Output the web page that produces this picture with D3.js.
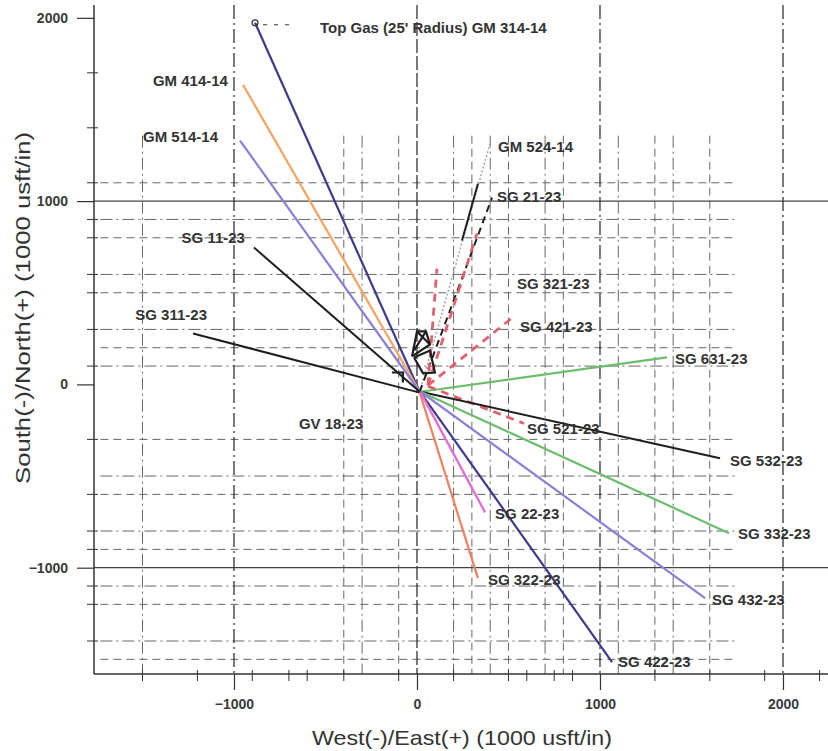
<!DOCTYPE html>
<html>
<head>
<meta charset="utf-8">
<script src="https://cdn.jsdelivr.net/npm/d3@7"></script>
<style>
  body { margin: 0; background: #fff; }
  text { font-family: "Liberation Sans", Arial, sans-serif; }
</style>
</head>
<body>
<script>

// trajectories, usft from the pad (East +, North +)
let wellNames = ["GM 314-14", "GM 414-14", "GM 514-14", "SG 11-23", "SG 311-23",
  "GM 524-14", "", "SG 21-23", "", "SG 321-23", "SG 421-23", "SG 631-23", "SG 521-23",
  "SG 532-23", "SG 332-23", "SG 432-23", "SG 422-23", "SG 322-23", "SG 22-23"];
let startEast  = [15, 15, 15, 15, 15,   15, 246, 15, 60, 60, 60,   20, 60,   20, 20, 20, 20, 15, 20];
let startNorth = [-40, -40, -40, -40, -45, -40, 785, -40, -5, -5, -5, -40, -10, -40, -40, -40, -45, -45, -45];
let endEast    = [-885, -951, -967, -891, -1224, 399, 333, 410, 109, 328, 536, 1366, 585, 1656, 1705, 1574, 1066, 333, 372];
let endNorth   = [1973, 1635, 1330, 747, 278, 1313, 1095, 1019, 632, 823, 376, 147, -213, -403, -812, -1166, -1515, -1057, -698];
let wellKind   = ["navy", "orange", "lilac", "black", "black", "grey", "black", "blackdash", "red", "red", "red",
  "green", "red", "black", "green", "lilac", "navy", "salmon", "magenta"];

// GV 18-23 derrick outline
let rigLines = [
  [[-27, 153], [0, 289], [49, 289], [71, 218], [-27, 153]],
  [[0, 289], [71, 218]],
  [[49, 289], [-16, 185]],
  [[-16, 147], [71, 185], [98, 65], [33, 60], [-16, 147]],
  [[-137, 65], [-77, 65], [-77, 11]]
];

// axis ticks and grid
let xMajor = [-1000, 0, 1000, 2000];
let yMajor = [2000, 1000, 0, -1000];
let xMinorTicks = [-1500, -1200, -900, -700, -600, -400, -100, 200, 500, 600, 750, 850, 1300, 1600, 1900, 2200];
let yMinorTicks = [1700, 1400, 1100, 900, 800, 600, 500, 300, 100, -300, -600, -800, -900, -1100, -1200, -1400];
let xGrid = [-1500, -400, -300, -100, 200, 300, 400, 500, 700, 800, 1100, 1300, 1400, 1600];
let yGrid = [1100, 900, 800, 600, 500, 300, 200, 100, -300, -500, -600, -800, -900, -1100, -1200, -1400, -1500];


let canvasW = 828;
let canvasH = 751;

let styles = {
  navy:      { color: "#3d3a86", width: 2.2, dash: null },
  orange:    { color: "#f2a86a", width: 2.4, dash: null },
  lilac:     { color: "#8b7fd2", width: 2.2, dash: null },
  black:     { color: "#1e1e1e", width: 2, dash: null },
  blackdash: { color: "#1e1e1e", width: 2, dash: "7,5" },
  grey:      { color: "#a8a8a8", width: 1.6, dash: "2,2" },
  red:       { color: "#e0606e", width: 2.8, dash: "8,6" },
  green:     { color: "#6cbd6c", width: 2.2, dash: null },
  salmon:    { color: "#f08060", width: 2.2, dash: null },
  magenta:   { color: "#e070d2", width: 2.4, dash: null }
};

// label placement relative to the line end, pixels
let labelPos = {
  "GM 314-14": { dx: 65, dy: 5, anchor: "start", text: "Top Gas (25' Radius) GM 314-14" },
  "GM 414-14": { dx: -15, dy: -4, anchor: "end" },
  "GM 514-14": { dx: -22, dy: -4, anchor: "end" },
  "SG 11-23":  { dx: -9, dy: -10, anchor: "end" },
  "SG 311-23": { dx: 14, dy: -19, anchor: "end" },
  "GM 524-14": { dx: 8, dy: 3, anchor: "start" },
  "SG 21-23":  { dx: 5, dy: -1, anchor: "start" },
  "SG 321-23": { dx: 40, dy: 50, anchor: "start" },
  "SG 421-23": { dx: 5, dy: 11, anchor: "start" },
  "SG 631-23": { dx: 8, dy: 1, anchor: "start" },
  "SG 521-23": { dx: 3, dy: 5, anchor: "start" },
  "SG 532-23": { dx: 10, dy: 2, anchor: "start" },
  "SG 332-23": { dx: 9, dy: 1, anchor: "start" },
  "SG 432-23": { dx: 7, dy: 2, anchor: "start" },
  "SG 422-23": { dx: 6, dy: 0, anchor: "start" },
  "SG 322-23": { dx: 10, dy: 2, anchor: "start" },
  "SG 22-23":  { dx: 10, dy: 1, anchor: "start" }
};

let svg = d3.select("body").append("svg")
  .attr("width", canvasW)
  .attr("height", canvasH)
  .style("background-color", "#fff");

let pLeft = 94, pRight = 828, pTop = 5, pBottom = 674;

let x = d3.scaleLinear().domain([-1765, 2246]).range([pLeft, pRight]);
let y = d3.scaleLinear().domain([-1580, 2070]).range([pBottom, pTop]);


// grid
let grid = svg.append("g");

grid.append("g").selectAll("line")
  .data(yGrid)
  .join("line")
  .attr("x1", x(-1730)).attr("x2", x(1735))
  .attr("y1", d => y(d)).attr("y2", d => y(d))
  .attr("stroke", "#666")
  .attr("stroke-width", 1)
  .attr("stroke-dasharray", (d, i) => i % 2 ? "12,4,2,4" : "8,5");

grid.append("g").selectAll("line")
  .data(xGrid)
  .join("line")
  .attr("x1", d => x(d)).attr("x2", d => x(d))
  .attr("y1", y(1357)).attr("y2", pBottom)
  .attr("stroke", "#666")
  .attr("stroke-width", 1)
  .attr("stroke-dasharray", (d, i) => i % 2 ? "8,5" : "12,4,2,4");

grid.append("g").selectAll("line")
  .data([1000, -1000])
  .join("line")
  .attr("x1", pLeft).attr("x2", pRight)
  .attr("y1", d => y(d)).attr("y2", d => y(d))
  .attr("stroke", "#444")
  .attr("stroke-width", 1.3);

grid.append("g").selectAll("line")
  .data(xMajor)
  .join("line")
  .attr("x1", d => x(d)).attr("x2", d => x(d))
  .attr("y1", pTop).attr("y2", pBottom)
  .attr("stroke", "#333")
  .attr("stroke-width", 1.3)
  .attr("stroke-dasharray", d => d == 0 ? "14,3" : "14,4,2,4");


// axes
let xAxis = svg.append("g").attr("transform", `translate(0,${pBottom})`);
xAxis.call(d3.axisBottom(x).tickValues(xMajor).tickSize(16).tickPadding(9).tickFormat(d3.format("d")));
xAxis.append("g").selectAll("line")
  .data(xMinorTicks)
  .join("line")
  .attr("x1", d => x(d)).attr("x2", d => x(d))
  .attr("y1", -4).attr("y2", 7)
  .attr("stroke", "#333");

let yAxis = svg.append("g").attr("transform", `translate(${pLeft},0)`);
yAxis.call(d3.axisLeft(y).tickValues(yMajor).tickSize(17).tickPadding(9).tickFormat(d3.format("d")));
yAxis.append("g").selectAll("line")
  .data(yMinorTicks)
  .join("line")
  .attr("x1", -7).attr("x2", 4)
  .attr("y1", d => y(d)).attr("y2", d => y(d))
  .attr("stroke", "#333");

[xAxis, yAxis].forEach(a => {
  a.select(".domain").attr("stroke", "#333").attr("stroke-width", 1.5)
    .attr("d", a === xAxis ? `M${pLeft},0H${pRight}` : `M0,${pTop}V${pBottom}`);
  a.selectAll(".tick line").attr("stroke", "#333").attr("stroke-width", 1.2);
  a.selectAll(".tick text")
    .attr("font-family", "Liberation Sans, Arial, sans-serif")
    .attr("font-size", 14)
    .attr("font-weight", "bold")
    .attr("fill", "#3a3a3a");
});

svg.append("text")
  .attr("x", 462).attr("y", 745)
  .attr("text-anchor", "middle")
  .attr("font-size", 21)
  .attr("fill", "#333")
  .attr("textLength", 300)
  .attr("lengthAdjust", "spacingAndGlyphs")
  .text("West(-)/East(+) (1000 usft/in)");

svg.append("text")
  .attr("transform", "translate(30,308) rotate(-90)")
  .attr("text-anchor", "middle")
  .attr("font-size", 21)
  .attr("fill", "#333")
  .attr("textLength", 352)
  .attr("lengthAdjust", "spacingAndGlyphs")
  .text("South(-)/North(+) (1000 usft/in)");


// wells
let wells = wellNames.map((n, i) => ({
  name: n, x0: startEast[i], y0: startNorth[i], x1: endEast[i], y1: endNorth[i], st: styles[wellKind[i]]
}));

svg.append("g").selectAll("line")
  .data(wells)
  .join("line")
  .attr("x1", d => x(d.x0)).attr("y1", d => y(d.y0))
  .attr("x2", d => x(d.x1)).attr("y2", d => y(d.y1))
  .attr("stroke", d => d.st.color)
  .attr("stroke-width", d => d.st.width)
  .attr("stroke-dasharray", d => d.st.dash);

// derrick
svg.append("g").selectAll("path")
  .data(rigLines)
  .join("path")
  .attr("d", d3.line().x(d => x(d[0])).y(d => y(d[1])))
  .attr("fill", "none")
  .attr("stroke", "#1e1e1e")
  .attr("stroke-width", 2.2);

// top gas marker
let gm314 = wells[0];
svg.append("circle")
  .attr("cx", x(gm314.x1)).attr("cy", y(gm314.y1))
  .attr("r", 3)
  .attr("fill", "none").attr("stroke", "#333").attr("stroke-width", 1.2);
svg.append("line")
  .attr("x1", x(gm314.x1) + 8).attr("x2", x(gm314.x1) + 40)
  .attr("y1", y(gm314.y1) + 2).attr("y2", y(gm314.y1) + 2)
  .attr("stroke", "#333").attr("stroke-dasharray", "4,7");

// labels
svg.append("g").selectAll("text")
  .data(wells.filter(d => labelPos[d.name]))
  .join("text")
  .attr("x", d => x(d.x1) + labelPos[d.name].dx)
  .attr("y", d => y(d.y1) + labelPos[d.name].dy)
  .attr("dy", "0.35em")
  .attr("text-anchor", d => labelPos[d.name].anchor)
  .attr("font-size", 15)
  .attr("font-weight", "bold")
  .attr("fill", "#333")
  .text(d => labelPos[d.name].text || d.name);

svg.append("text")
  .attr("x", x(rigLines[4][0][0]) - 93)
  .attr("y", y(rigLines[4][2][1]) + 41)
  .attr("dy", "0.35em")
  .attr("font-size", 15)
  .attr("font-weight", "bold")
  .attr("fill", "#333")
  .text("GV 18-23");

</script>
</body>
</html>
